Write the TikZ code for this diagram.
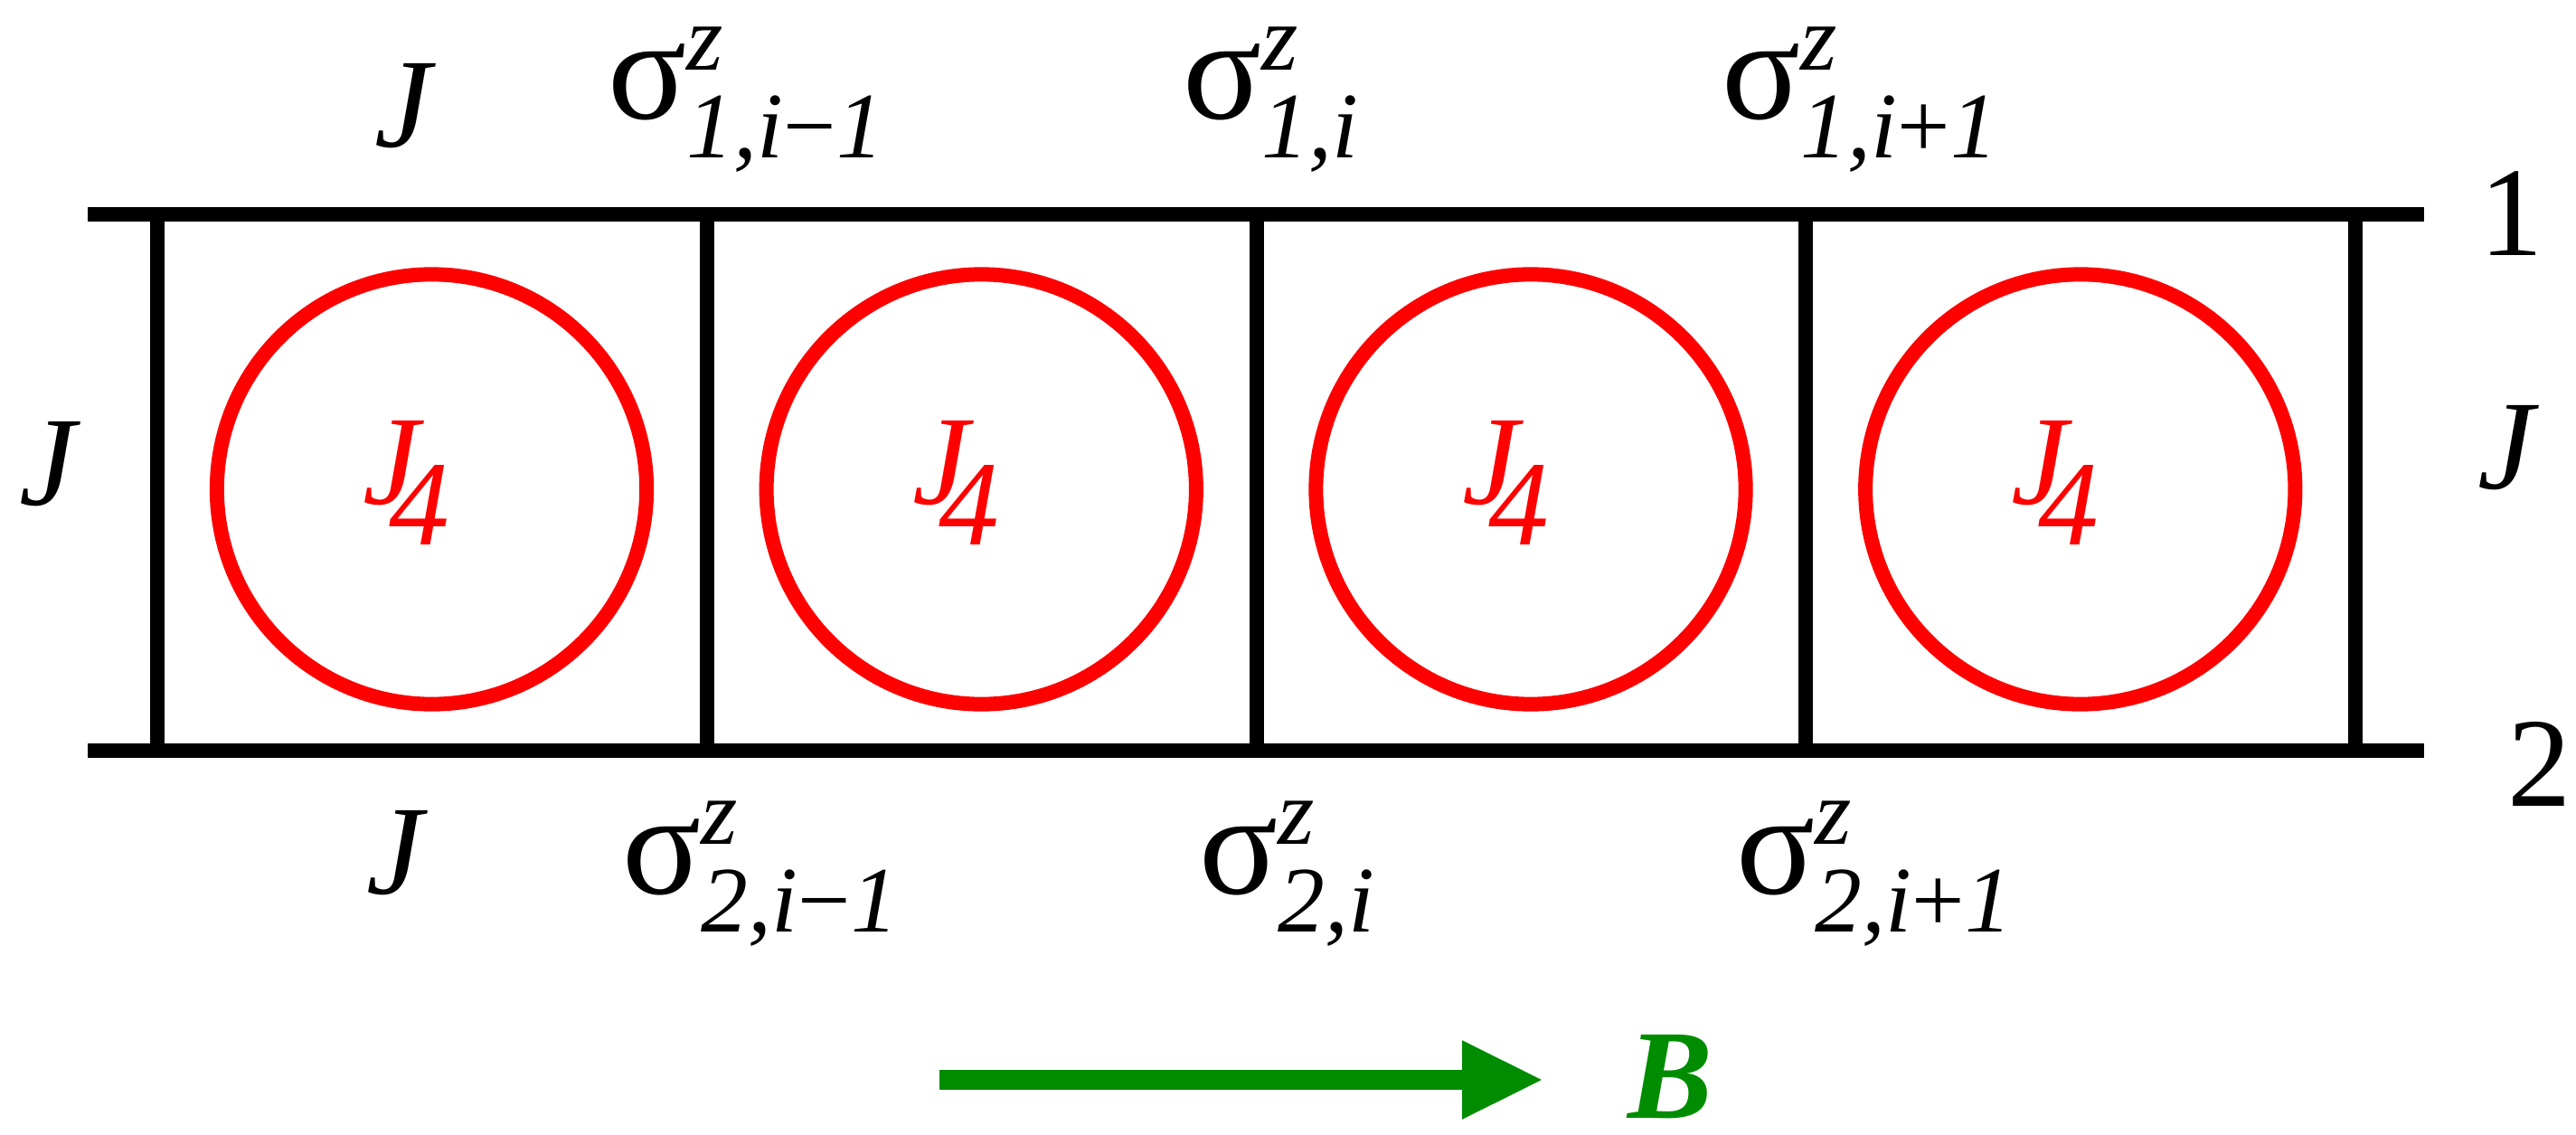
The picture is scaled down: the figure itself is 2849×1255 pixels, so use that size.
\documentclass[tikz,border=0pt]{standalone}
\usepackage{fontspec}
\setmainfont{Liberation Serif}
\usetikzlibrary{arrows.meta}
\definecolor{bgreen}{RGB}{0,140,0}
\definecolor{ringred}{RGB}{255,0,0}
\newcommand\mainsz{\fontsize{40}{48}\selectfont}
\newcommand\subsz{\fontsize{29.5}{34}\selectfont}
\newcommand\sigz[2]{{\fontsize{46}{50}\selectfont σ}\rlap{\raisebox{15.6pt}{\subsz\itshape z}}\raisebox{-12.2pt}{\subsz\itshape #1,#2}}
\begin{document}
\begin{tikzpicture}[x=0.01cm,y=-0.01cm,
  rail/.style={line width=4.55pt},
  rung/.style={line width=4.55pt},
  ring/.style={circle,draw=ringred,line width=4.55pt,minimum size=4.75cm,inner sep=0pt},
  lbl/.style={anchor=base west,inner sep=0pt,font=\mainsz},
  jfour/.style={lbl,text=ringred},
  field/.style={draw=bgreen,line width=6pt,-{Triangle[length=25.6pt,width=23pt]}}]
\useasboundingbox (0,0) rectangle (2849,1255);
% rails
\coordinate (t0) at (97,237); \coordinate (t1) at (2681,237);
\coordinate (b0) at (97,830); \coordinate (b1) at (2681,830);
\draw[rail] (t0) -- (t1);
\draw[rail] (b0) -- (b1);
% rungs
\foreach \k/\x in {0/174,1/781.75,2/1389.5,3/1997.25,4/2605}{
  \coordinate (vt\k) at (\x,237);
  \coordinate (vb\k) at (\x,830);
  \draw[rung] (vt\k) -- (vb\k);
}
% plaquette rings
\foreach \k in {1,2,3,4}{
  \node[ring] (c\k) at ({477.5+607.75*(\k-1)},541) {};
  \node[jfour] (j\k) at ({401+607.75*(\k-1)},557) {\itshape J\kern-9.5pt\raisebox{-12.8pt}{\fontsize{38}{44}\selectfont 4}};
}
% coupling labels
\node[lbl] (jtop) at (414,163) {\itshape J};
\node[lbl] (jbot) at (405,988) {\itshape J};
\node[lbl] (jleft) at (21,558) {\itshape J};
\node[lbl] (jright) at (2740,540) {\itshape J};
\node[lbl] (leg1) at (2742,283) {1};
\node[lbl] (leg2) at (2773,891) {2};
% spin labels
\node[lbl] (s1a) at (672,132) {\sigz{1}{i{\upshape −}1}};
\node[lbl] (s1b) at (1308,132) {\sigz{1}{i}};
\node[lbl] (s1c) at (1904,132) {\sigz{1}{i{\upshape +}1}};
\node[lbl] (s2a) at (688,988) {\sigz{2}{i{\upshape −}1}};
\node[lbl] (s2b) at (1326,988) {\sigz{2}{i}};
\node[lbl] (s2c) at (1920,988) {\sigz{2}{i{\upshape +}1}};
% field arrow
\coordinate (a0) at (1039,1194);
\coordinate (a1) at (1707,1194);
\draw[field] (a0) -- (a1);
\node[lbl,text=bgreen] (bfield) at (1800,1236) {\bfseries\itshape B};
\end{tikzpicture}
\end{document}
